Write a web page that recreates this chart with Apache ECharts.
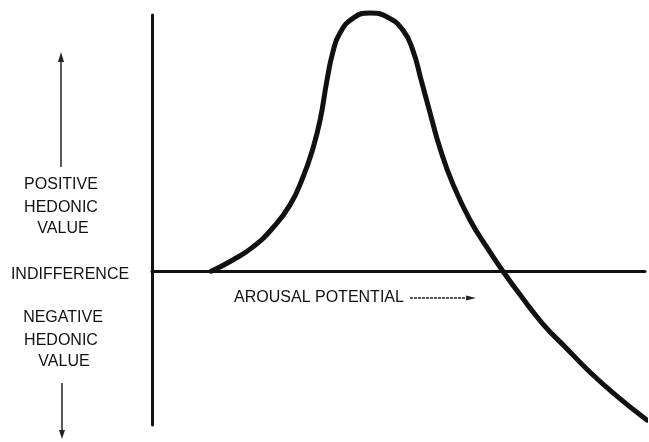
<!DOCTYPE html>
<html>
<head>
    <meta charset="utf-8">
    <title>Wundt curve</title>
    <script src="https://cdn.jsdelivr.net/npm/echarts@6/dist/echarts.min.js"></script>
</head>
<body style="margin:0;background:#fff">
    <div id="main" style="width:649px;height:442px;"></div>
    <script type="text/javascript">
        // arousal potential (arbitrary units) and hedonic value
        var arousal = [12.0, 16.4, 20.5, 24.5, 28.0, 30.6, 32.7, 34.1, 35.5, 36.7, 38.1,
                       40.8, 44.2, 47.7, 50.9, 52.9, 54.6, 56.4, 58.4, 61.1, 64.5, 68.0, 71.0,
                       74.7, 79.3, 84.2, 88.8, 94.3, 100.4];
        var hedonic = [0, 4.4, 9.5, 16.9, 25.9, 36.6, 48.3, 59.0, 74.6, 85.6, 92.9,
                       98.8, 100.8, 99.2, 94.1, 86.3, 74.6, 61.8, 48.1, 33.7, 20.0, 9.1, 0.5,
                       -9.3, -20.6, -30.3, -39.3, -48.7, -58.1];

        var positiveLabel = ['POSITIVE', 'HEDONIC', 'VALUE'];
        var negativeLabel = ['NEGATIVE', 'HEDONIC', 'VALUE'];

        var data = arousal.map(function (x, i) { return [x, hedonic[i]]; });

        var font = '16px "Liberation Sans", Arial, sans-serif';
        function label(text, x, y) {
            return { type: 'text', x: x, y: y,
                style: { text: text, font: font, fill: '#111', align: 'center', verticalAlign: 'middle' } };
        }
        function arrowLine(x1, y1, x2, y2, dash) {
            return { type: 'line', shape: { x1: x1, y1: y1, x2: x2, y2: y2 },
                style: { stroke: '#222', lineWidth: 1.5, lineDash: dash || null } };
        }

        var myChart = echarts.init(document.getElementById('main'));

        var option = {
            animation: false,
            grid: { left: 152, right: 4, top: 15, bottom: 17 },
            xAxis: {
                type: 'value', min: 0, max: 100,
                axisLine: { onZero: true, lineStyle: { color: '#111', width: 3 } },
                axisTick: { show: false }, axisLabel: { show: false }, splitLine: { show: false }
            },
            yAxis: {
                type: 'value', min: -60, max: 100,
                axisLine: { show: true, onZero: false, lineStyle: { color: '#111', width: 3 } },
                axisTick: { show: false }, axisLabel: { show: false }, splitLine: { show: false }
            },
            series: [{
                type: 'line',
                data: data,
                smooth: 0.5,
                symbol: 'none',
                clip: false,
                lineStyle: { color: '#111', width: 5, cap: 'round', join: 'round' }
            }],
            graphic: [
                label(positiveLabel[0], 61, 185),
                label(positiveLabel[1], 61, 208),
                label(positiveLabel[2], 63, 229),
                label('INDIFFERENCE', 70, 275),
                label(negativeLabel[0], 63, 318),
                label(negativeLabel[1], 61, 341),
                label(negativeLabel[2], 64, 362),
                label('AROUSAL POTENTIAL', 319, 298),
                // up arrow
                arrowLine(61, 167, 61, 56),
                { type: 'polygon', shape: { points: [[61, 52], [58, 62], [64, 62]] }, style: { fill: '#222' } },
                // down arrow
                arrowLine(62, 383, 62, 434),
                { type: 'polygon', shape: { points: [[62, 439], [59, 430], [65, 430]] }, style: { fill: '#222' } },
                // arousal arrow
                arrowLine(410, 298, 468, 298, [3, 1]),
                { type: 'polygon', shape: { points: [[476, 298], [466, 295.5], [466, 300.5]] }, style: { fill: '#222' } }
            ]
        };

        myChart.setOption(option);
    </script>
</body>
</html>
